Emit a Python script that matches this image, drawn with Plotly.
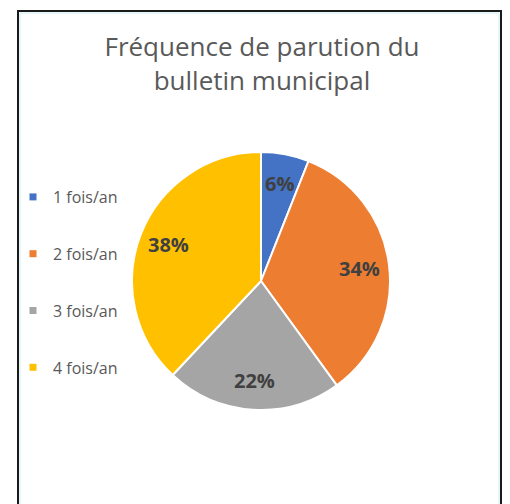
import numpy as np
import plotly.graph_objects as go

categories = ["1 fois/an", "2 fois/an", "3 fois/an", "4 fois/an"]
values = [6, 34, 22, 38]
colors = ["#4472C4", "#ED7D31", "#A5A5A5", "#FFC000"]
title_text = "Fréquence de parution du<br>bulletin municipal"

# page body adds an 8px margin, so the figure is sized to fill the window
W, H = 502, 496
CX, CY, R = 253, 273, 129  # pie centre and radius in figure pixels
LABEL_FRAC = 0.77

fig = go.Figure()
fig.add_trace(go.Pie(
    labels=categories, values=values, sort=False, direction="clockwise", rotation=0,
    marker=dict(colors=colors, line=dict(color="white", width=2)),
    textinfo="none", hoverinfo="label+percent",
    showlegend=False,
    domain=dict(x=[(CX - R) / W, (CX + R) / W], y=[1 - (CY + R) / H, 1 - (CY - R) / H]),
))

for i, (c, col) in enumerate(zip(categories, colors)):
    fig.add_trace(go.Scatter(
        x=[None], y=[None], mode="markers", name=c, legendgroup=f"g{i}",
        marker=dict(symbol="square", size=7, color=col),
    ))

# percentage labels placed along each slice's mid-angle
vals = np.array(values, dtype=float)
frac = vals / vals.sum()
mids = (np.cumsum(frac) - frac / 2) * 2 * np.pi
annotations = []
for f, a in zip(frac, mids):
    px = CX + LABEL_FRAC * R * np.sin(a)
    py = CY - LABEL_FRAC * R * np.cos(a)
    annotations.append(dict(
        x=px / W, y=1 - py / H, xref="paper", yref="paper", showarrow=False,
        text=f"{f * 100:.0f}%", xanchor="center", yanchor="middle",
        font=dict(family="Open Sans", size=20, color="#404040", weight="bold"),
    ))

fig.update_layout(
    width=W, height=H,
    margin=dict(l=0, r=0, t=0, b=0),
    paper_bgcolor="white", plot_bgcolor="white",
    xaxis=dict(visible=False), yaxis=dict(visible=False),
    title=dict(text=title_text, x=254 / W, xanchor="center", y=1 - 48 / H, yanchor="top",
               font=dict(family="Open Sans", size=26, color="#595959")),
    legend=dict(x=5 / W, y=1 - 172 / H, xanchor="left", yanchor="top",
                tracegroupgap=33, itemwidth=30, bgcolor="rgba(0,0,0,0)",
                font=dict(family="Open Sans", size=16, color="#595959")),
    annotations=annotations,
    shapes=[
        dict(type="rect", xref="paper", yref="paper", x0=10 / W, x1=493 / W, y0=-0.05, y1=1 - 3 / H,
             line=dict(color="#1a1a1a", width=2)),
        dict(type="rect", xref="paper", yref="paper", x0=12 / W, x1=491 / W, y0=-0.05, y1=1 - 5 / H,
             line=dict(color="#CDEFF5", width=1)),
    ],
)

fig.write_html("out.html")
